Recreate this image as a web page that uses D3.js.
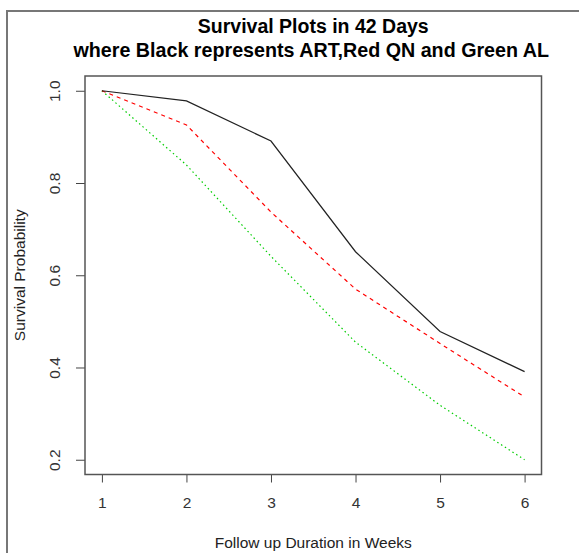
<!DOCTYPE html>
<html>
<head>
<meta charset="utf-8">
<script src="https://cdn.jsdelivr.net/npm/d3@7"></script>
<style>
  body { margin: 0; background: #fff; }
  svg { display: block; font-family: "Liberation Sans", Arial, sans-serif; }
</style>
</head>
<body>
<div id="chart"></div>
<script>
// survival data
var weeks = [1, 2, 3, 4, 5, 6];
var art = [1.0, 0.978, 0.891, 0.651, 0.478, 0.391];   // black
var qn  = [1.0, 0.926, 0.737, 0.570, 0.452, 0.336];   // red
var al  = [1.0, 0.839, 0.641, 0.455, 0.318, 0.200];   // green
var yTicks = [0.2, 0.4, 0.6, 0.8, 1.0];

(function() {
    var width = 579, height = 553;
    var box = {left: 85, top: 76, right: 541.5, bottom: 474.5};
    var labelSize = 15.5;

    var svg = d3.select("#chart").append("svg")
        .attr("width", width)
        .attr("height", height);

    //outer frame (only left and top edges visible)
    svg.append("path")
        .attr("d", "M7," + height + "V11H" + width)
        .attr("fill", "none")
        .attr("stroke", "#777")
        .attr("stroke-width", 2);

    //R style scales: 4% padding inside the box
    var padX = (box.right - box.left) * 0.04 / 1.08;
    var xScale = d3.scaleLinear().domain([1, 6])
        .range([box.left + padX, box.right - padX]);
    var padY = (box.bottom - box.top) * 0.04 / 1.08;
    var yScale = d3.scaleLinear().domain([0.2, 1.0])
        .range([box.bottom - padY, box.top + padY]);

    //x axis
    var xAxis = svg.append("g")
        .attr("transform", "translate(0," + box.bottom + ")")
        .call(d3.axisBottom(xScale).tickValues(weeks).tickSize(8).tickSizeOuter(0)
            .tickFormat(d3.format("d")))
        .attr("font-size", labelSize)
        .attr("font-family", "Liberation Sans, Arial, sans-serif");
    xAxis.select(".domain").remove();
    xAxis.selectAll("line").attr("stroke", "#444");
    xAxis.selectAll("text")
        .attr("y", 22)
        .attr("dy", "0.71em")
        .attr("fill", "#333");

    //y axis
    var yAxis = svg.append("g")
        .attr("transform", "translate(" + box.left + ",0)")
        .call(d3.axisLeft(yScale).tickValues(yTicks).tickSize(9).tickSizeOuter(0)
            .tickFormat(d3.format(".1f")))
        .attr("font-size", labelSize)
        .attr("font-family", "Liberation Sans, Arial, sans-serif");
    yAxis.select(".domain").remove();
    yAxis.selectAll("line").attr("stroke", "#444");
    yAxis.selectAll("text")
        .attr("transform", "rotate(-90)")
        .attr("x", 0)
        .attr("y", -30)
        .attr("dy", "0.35em")
        .attr("text-anchor", "middle")
        .attr("fill", "#333");

    //plot box
    svg.append("rect")
        .attr("x", box.left)
        .attr("y", box.top)
        .attr("width", box.right - box.left)
        .attr("height", box.bottom - box.top)
        .attr("fill", "none")
        .attr("stroke", "#555")
        .attr("stroke-width", 1.5);

    //survival lines
    var line = d3.line()
        .x(function(d, i) { return xScale(weeks[i]); })
        .y(function(d) { return yScale(d); });

    var series = [
        {values: al, color: "#00cd00", dash: "1.5,3"},
        {values: qn, color: "#ff0000", dash: "4,4"},
        {values: art, color: "#222", dash: null}
    ];
    series.forEach(function(s) {
        svg.append("path")
            .datum(s.values)
            .attr("d", line)
            .attr("fill", "none")
            .attr("stroke", s.color)
            .attr("stroke-width", 1.2)
            .attr("stroke-dasharray", s.dash);
    });

    //titles
    var cx = (box.left + box.right) / 2;
    svg.append("text")
        .attr("x", cx).attr("y", 33)
        .attr("text-anchor", "middle")
        .style("font-size", "19.5px").style("font-weight", "bold")
        .text("Survival Plots in 42 Days");
    svg.append("text")
        .attr("x", cx - 2).attr("y", 57)
        .attr("text-anchor", "middle")
        .style("font-size", "19.7px").style("font-weight", "bold")
        .text("where Black represents ART,Red QN and Green AL");

    //axis titles
    svg.append("text")
        .attr("x", cx).attr("y", 548)
        .attr("text-anchor", "middle")
        .attr("fill", "#222")
        .style("font-size", labelSize + "px")
        .text("Follow up Duration in Weeks");
    svg.append("text")
        .attr("transform", "translate(25," + ((box.top + box.bottom) / 2) + ") rotate(-90)")
        .attr("text-anchor", "middle")
        .attr("fill", "#222")
        .style("font-size", labelSize + "px")
        .text("Survival Probability");
})();
</script>
</body>
</html>
